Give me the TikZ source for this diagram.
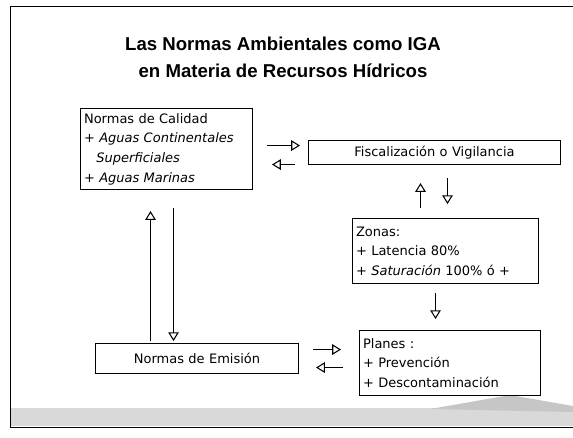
\documentclass[tikz,border=0pt]{standalone}
\usepackage{fontspec}
\setmainfont{Liberation Sans}
\newfontfamily\cajafont{DejaVu Sans}
\usetikzlibrary{arrows.meta,positioning,calc}

\tikzset{
  caja/.style={draw, semithick, anchor=north west, inner sep=2pt, align=left,
    font=\cajafont\fontsize{7.4}{11.2}\selectfont},
  flecha/.style={-{Triangle[open,length=5pt,width=6pt]}, semithick},
}

\begin{document}
\begin{tikzpicture}[x=0.02cm,y=-0.02cm]
\useasboundingbox (0,0) rectangle (573,437);
% marco y fondo
\fill[gray!30] (10,408) rectangle (573,426);
\fill[gray!45] (430,409) -- (510,395) -- (573,406) -- (573,412) -- cycle;
\draw[thin] (573,6) -- (10,6) -- (10,427) -- (573,427);

% titulo
\node[font=\bfseries\fontsize{10.6}{15.3}\selectfont, align=center] (titulo) at (283,57)
  {Las Normas Ambientales como IGA\\en Materia de Recursos Hídricos};

% cajas
\node[caja, text width=3.44cm-4pt, minimum height=1.62cm] (cal) at (80,108)
  {Normas de Calidad\\+ \textit{Aguas Continentales}\\\hspace*{7pt}\textit{Superficiales}\\+ \textit{Aguas Marinas}};
\node[caja, align=center, text width=5.04cm-4pt, minimum height=0.48cm] (fisc) at (308,140)
  {Fiscalización o Vigilancia};
\node[caja, text width=3.72cm-4pt, minimum height=1.3cm] (zonas) at (352,218)
  {Zonas:\\+ Latencia 80\%\\+ \textit{Saturación} 100\% ó +};
\node[caja, text width=3.62cm-4pt, minimum height=1.3cm] (planes) at (359,330)
  {Planes :\\+ Prevención\\+ Descontaminación};
\node[caja, align=center, text width=4.06cm-4pt, minimum height=0.6cm] (emis) at (95,343)
  {Normas de Emisión};

% flechas
\draw[flecha] ($(fisc.west)+(-41,-7)$) -- ($(fisc.west)+(-8,-7)$);
\draw[flecha] ($(fisc.west)+(-13,12)$) -- ($(fisc.west)+(-36,12)$);
\draw[flecha] ($(fisc.south)+(-14,43)$) -- ($(fisc.south)+(-14,18)$);
\draw[flecha] ($(fisc.south)+(13,13)$) -- ($(fisc.south)+(13,39)$);
\draw[flecha] ($(zonas.south)+(-10,9)$) -- ($(zonas.south)+(-10,35)$);
\draw[flecha] ($(emis.east)+(14,-9)$) -- ($(emis.east)+(42,-9)$);
\draw[flecha] ($(emis.east)+(44,9)$) -- ($(emis.east)+(17,9)$);
\draw[flecha] ($(cal.south)+(-16,151)$) -- ($(cal.south)+(-16,21)$);
\draw[flecha] ($(cal.south)+(7,18)$) -- ($(cal.south)+(7,151)$);
\end{tikzpicture}
\end{document}
